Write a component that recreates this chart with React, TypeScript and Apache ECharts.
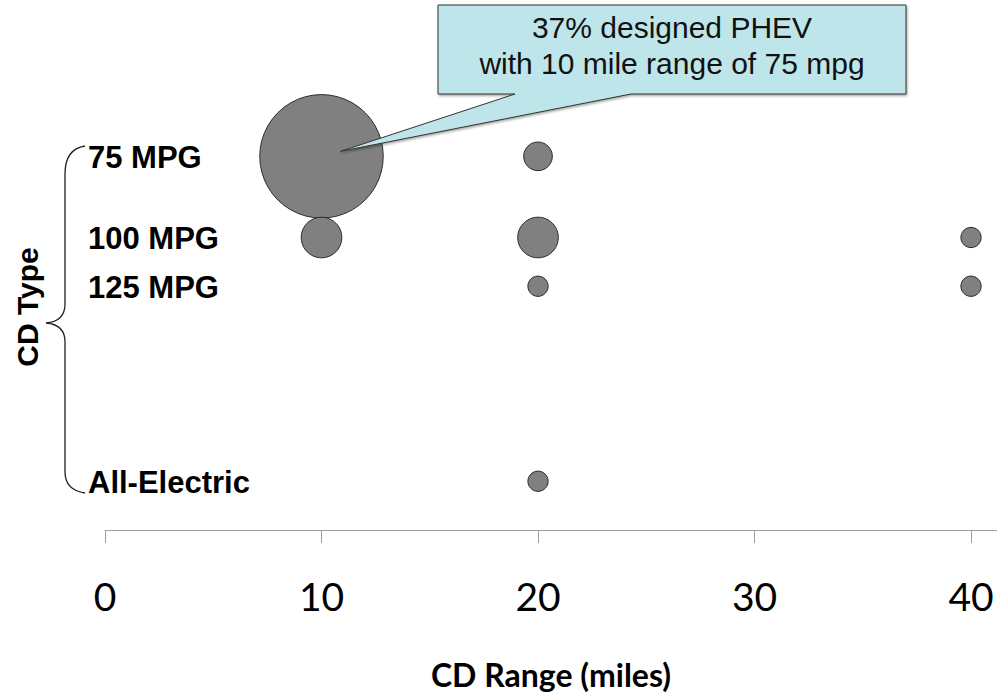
import { useEffect, useRef } from 'react';
import * as echarts from 'echarts';

// Charge-depleting (CD) operating modes and their fuel use in gallons per 100 miles
const cdTypes = ['75 MPG', '100 MPG', '125 MPG', 'All-Electric'];
const fuelUse = [1.333, 1.0, 0.8, 0];

// One entry per bubble: CD range (miles), CD type index, share of designs (%)
const bubbleRange = [10, 20, 10, 20, 40, 20, 40, 20];
const bubbleType = [0, 0, 1, 1, 1, 2, 2, 3];
const bubbleShare = [37, 2, 4, 4, 1, 1, 1, 1];

const xTicks = [0, 10, 20, 30, 40];

const calloutLines = ['37% designed PHEV', 'with 10 mile range of 75 mpg'];

const BRACE_D =
  'M85,146 C72,148 65,158 65,174 L65,304 C65,316 58,322 46,323 C58,324 65,330 65,342 L65,472 C65,484 72,491 85,493';
echarts.graphic.registerShape('cdBrace', echarts.graphic.extendPath(BRACE_D, {}));

const ARIAL = '"Liberation Sans", Arial, sans-serif';
const BODY = 'Lato, "Open Sans", sans-serif';

export default function App() {
  const ref = useRef<HTMLDivElement>(null);

  useEffect(() => {
    if (!ref.current) return;
    const chart = echarts.init(ref.current, undefined, { renderer: 'svg' });

    const bubbles = bubbleRange.map((x, i) => [x, fuelUse[bubbleType[i]], bubbleShare[i]]);
    const labels = cdTypes.map((name, i) => ({ value: [0, fuelUse[i]], name }));

    chart.setOption({
      animation: false,
      backgroundColor: '#ffffff',
      grid: { left: 105, right: 0, top: 91.25, bottom: 166, containLabel: false },
      xAxis: {
        type: 'value',
        min: 0,
        max: 41.2,
        interval: 10,
        name: 'CD Range (miles)',
        nameLocation: 'middle',
        nameGap: 128,
        nameTextStyle: { fontFamily: BODY, fontWeight: 'bold', fontSize: 32, color: '#000' },
        axisLine: { show: true, onZero: false, lineStyle: { color: '#a0a0a0', width: 1 } },
        axisTick: { show: true, inside: false, length: 13, customValues: xTicks, lineStyle: { color: '#a0a0a0' } },
        axisLabel: {
          customValues: xTicks,
          margin: 46,
          fontFamily: BODY,
          fontSize: 39,
          color: '#000',
        },
        splitLine: { show: false },
      },
      yAxis: {
        type: 'value',
        min: -0.2,
        max: 1.6,
        show: false,
        splitLine: { show: false },
      },
      series: [
        {
          type: 'scatter',
          data: bubbles,
          symbol: 'circle',
          symbolSize: (val: number[]) => 20.3 * Math.sqrt(val[2]),
          itemStyle: { color: '#808080', borderColor: '#2a2a2a', borderWidth: 1, opacity: 1 },
          z: 2,
        },
        {
          type: 'scatter',
          data: labels,
          symbolSize: 0,
          silent: true,
          itemStyle: { opacity: 1 },
          label: {
            show: true,
            position: 'right',
            distance: 0,
            offset: [-17, 1],
            formatter: (p: any) => p.name,
            fontFamily: ARIAL,
            fontWeight: 'bold',
            fontSize: 31,
            color: '#000',
            opacity: 1,
          },
          z: 3,
        },
      ],
    });

    // Callout pointing at the largest bubble
    const tip = chart.convertToPixel({ gridIndex: 0 }, [bubbleRange[0], fuelUse[bubbleType[0]]]) as number[];
    const tx = tip[0] + 19;
    const ty = tip[1] - 5;
    const boxL = 438, boxR = 906, boxT = 5, boxB = 94;

    chart.setOption({
      graphic: [
        {
          type: 'cdBrace',
          x: 0,
          y: 0,
          silent: true,
          style: { fill: 'none', stroke: '#222', lineWidth: 1.3 },
        },
        {
          type: 'text',
          x: 27,
          y: 307,
          rotation: Math.PI / 2,
          style: {
            text: 'CD Type',
            fontFamily: ARIAL,
            fontWeight: 'bold',
            fontSize: 30,
            fill: '#000',
            align: 'center',
            verticalAlign: 'middle',
          },
        },
        {
          type: 'polygon',
          shape: {
            points: [
              [boxL, boxT],
              [boxR, boxT],
              [boxR, boxB],
              [631, boxB],
              [tx, ty],
              [515, boxB],
              [boxL, boxB],
            ],
          },
          style: {
            fill: '#bee5e9',
            stroke: '#333',
            lineWidth: 1,
            shadowBlur: 2,
            shadowOffsetX: 1,
            shadowOffsetY: 1.5,
            shadowColor: 'rgba(0,0,0,0.35)',
          },
          z: 10,
        },
        {
          type: 'text',
          x: (boxL + boxR) / 2,
          y: 45,
          z: 11,
          style: {
            text: calloutLines.join('\n'),
            fontFamily: ARIAL,
            fontSize: 30,
            lineHeight: 36,
            fill: '#111',
            align: 'center',
            verticalAlign: 'middle',
          },
        },
      ],
    });

    return () => chart.dispose();
  }, []);

  return (
    <div
      ref={ref}
      style={{ position: 'fixed', left: 0, top: 0, width: 997, height: 696, background: '#fff' }}
    />
  );
}
